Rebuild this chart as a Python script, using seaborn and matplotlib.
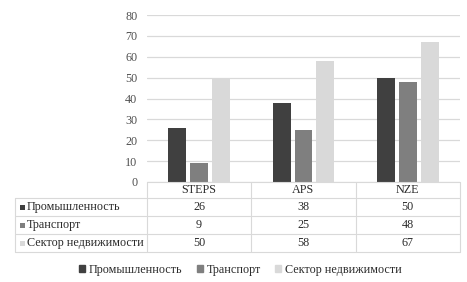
import numpy as np
import pandas as pd
import matplotlib
matplotlib.use('Agg')
import matplotlib.pyplot as plt
from matplotlib.patches import Rectangle
import seaborn as sns

# data
scenarios = ['STEPS', 'APS', 'NZE']
sectors = ['Промышленность', 'Транспорт', 'Сектор недвижимости']
industry = [26, 38, 50]
transport = [9, 25, 48]
buildings = [50, 58, 67]
yticks = [0, 10, 20, 30, 40, 50, 60, 70, 80]
colors = ['#404040', '#7f7f7f', '#d9d9d9']

df = pd.DataFrame({
    'scenario': scenarios * 3,
    'sector': np.repeat(sectors, 3),
    'value': industry + transport + buildings,
})

sns.set_theme(style='white')
plt.rcParams['font.family'] = ['Liberation Serif', 'DejaVu Sans']

W, H = 467, 282
fig = plt.figure(figsize=(W / 100, H / 100), dpi=100)
ax = fig.add_axes([147 / W, 1 - 182 / H, 313 / W, 167 / H])

sns.barplot(data=df, x='scenario', y='value', hue='sector', palette=colors,
            width=0.63, gap=0.18, saturation=1, linewidth=0, legend=False, ax=ax)
ax.set_xlim(-0.5, 2.5)
ax.set_ylim(0, 80)
ax.set_yticks(yticks)
ax.set_xticks([])
ax.set_xlabel('')
ax.set_ylabel('')
ax.grid(axis='y', color='#d9d9d9', lw=0.9)
ax.set_axisbelow(True)
for s in ax.spines.values():
    s.set_visible(False)
ax.tick_params(axis='y', length=0, pad=7, labelsize=8.7, labelcolor='#505050')

# data table under the chart, in pixel coords
ov = fig.add_axes([0, 0, 1, 1], facecolor='none')
ov.set_xlim(0, W)
ov.set_ylim(H, 0)
ov.axis('off')

fig.canvas.draw()
xb = ax.transData.transform([(x, 0) for x in [-0.5, 0.5, 1.5, 2.5]])[:, 0]
left = 15
rows_y = [182, 198, 216, 234, 252]
grid_c = '#d9d9d9'
txt_c = '#2b2b2b'
fs = 8.7

ov.plot([xb[0], xb[-1]], [rows_y[0]] * 2, color=grid_c, lw=0.8)
for y in rows_y[1:]:
    ov.plot([left, xb[-1]], [y, y], color=grid_c, lw=0.8)
ov.plot([left, left], [rows_y[1], rows_y[-1]], color=grid_c, lw=0.8)
for x in xb:
    ov.plot([x, x], [rows_y[0], rows_y[-1]], color=grid_c, lw=0.8)

for i, name in enumerate(scenarios):
    ov.text((xb[i] + xb[i + 1]) / 2, (rows_y[0] + rows_y[1]) / 2, name,
            ha='center', va='center', fontsize=fs, color=txt_c)

series = [industry, transport, buildings]
for r, (label, vals) in enumerate(zip(sectors, series)):
    ym = (rows_y[r + 1] + rows_y[r + 2]) / 2
    ov.add_patch(Rectangle((20, ym - 2.5), 5, 5, color=colors[r], lw=0))
    ov.text(27, ym, label, ha='left', va='center', fontsize=fs, color=txt_c)
    for i, v in enumerate(vals):
        ov.text((xb[i] + xb[i + 1]) / 2, ym, str(v), ha='center', va='center',
                fontsize=fs, color=txt_c)

handles = [Rectangle((0, 0), 1, 1, color=c) for c in colors]
fig.legend(handles, sectors, loc='center', bbox_to_anchor=(0.515, 1 - 270 / H),
           ncol=3, frameon=False, fontsize=fs, handlelength=0.5, handleheight=0.5,
           handletextpad=0.3, columnspacing=1.2, labelcolor=txt_c)

fig.savefig('out.png', dpi=100)
